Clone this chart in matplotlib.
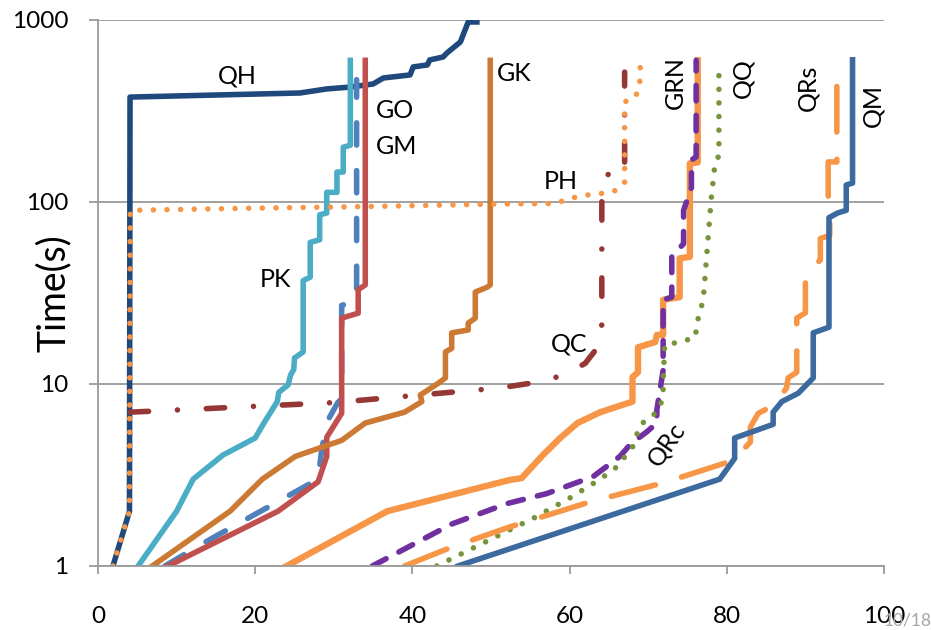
import numpy as np
import matplotlib
matplotlib.use("Agg")
import matplotlib.pyplot as plt

plt.rcParams['font.family'] = ['Lato', 'DejaVu Sans']

# percentage of instances solved (x) vs time in seconds (y)
qh_x = [1.9, 4.0, 4.07, 25.7, 29.1, 32.1, 35.0, 36.3, 39.7, 40.1, 41.9, 42.2, 43.9, 44.4, 46.1, 47.1, 48.2]
qh_y = [1, 2, 377, 397, 418, 428, 445, 480, 499, 552, 566, 603, 626, 659, 757, 975, 975]

pk_x = [5.1, 10, 12.1, 15.9, 20, 21, 22.8, 23, 24.2, 24.5, 24.9, 25, 26.1, 26.1, 27, 27, 28.2, 28.2,
        29.1, 29.1, 30.4, 30.4, 31.2, 31.2, 32.1, 32.1]
pk_y = [1, 2, 3, 4.07, 5.05, 6, 8, 9, 9.9, 11.2, 12, 13.9, 15, 37, 38.6, 60, 62, 85,
        87, 113, 113, 146, 146, 200, 205, 600]

go_x = [8.5, 14.5, 22, 28, 28.5, 29.4, 30.5, 31, 31, 32.9, 32.9]
go_y = [1, 1.42, 2.15, 3.0, 4.5, 6.5, 7.9, 8.3, 27, 29, 470]

gm_x = [8.9, 22.9, 28, 29.1, 29.1, 31, 31, 33.1, 33.1, 34, 34]
gm_y = [1, 2, 2.9, 4, 5.1, 6.9, 23, 24.5, 33, 35, 600]

gk_x = [6.9, 16.8, 20.9, 25.1, 31, 34, 39, 41.2, 41, 43.3, 44.2, 44.2, 45, 45, 47.1, 47.1, 48,
        48, 49.5, 49.9, 49.9]
gk_y = [1, 2, 3, 4, 4.9, 6.1, 7, 8, 8.7, 10.1, 10.8, 15, 15.7, 19.1, 19.8, 21.6, 23,
        32, 34, 35, 600]

qc_x = [4.1, 30, 51, 57, 60, 62, 64, 64.1, 64.1, 64.9, 64.9, 67, 67]
qc_y = [7.0, 7.9, 9.5, 10.4, 11.6, 13, 16.8, 22, 104, 120, 160, 160, 517]

ph_x = [1.9, 4.0, 4.1, 20, 35, 51, 58, 61.3, 64.5, 66, 67, 67, 67, 68.2, 68.9, 69]
ph_y = [1, 2, 90, 92.5, 94.5, 97.5, 98, 108, 112, 116, 127, 210, 355, 370, 420, 580]

grn_x = [24, 36.8, 52.4, 53.9, 56.6, 58.8, 61, 63.9, 68, 68, 68.7, 68.7, 70.9, 71.1, 71.9,
         71.9, 74, 74, 75.3, 75.3, 76.3, 76.3]
grn_y = [1, 2, 2.97, 3.04, 4.07, 5.05, 6.1, 7, 8, 10.9, 11.6, 15.9, 17, 18.6, 18.6,
         29, 30, 49, 50, 163, 165, 600]

qrc_x = [34.9, 45, 52, 57.1, 63, 66.4, 67.8, 69.8, 71.1, 71.1, 71.9, 71.9, 73, 73, 74.5, 74.5,
         75.5, 75.5, 76.1, 76.1]
qrc_y = [1, 1.7, 2.2, 2.5, 3.1, 4, 4.7, 5.45, 6.1, 7.2, 11.9, 29, 30, 50, 59, 90,
         120, 170, 177, 600]

qq_x = [43.1, 52.4, 55.4, 60, 63.9, 66, 68, 69, 70.5, 71.5, 71.9, 71.9, 72.1, 74, 76, 76.2,
        77, 78, 78.5, 79, 79]
qq_y = [1, 1.58, 1.83, 2.36, 3, 3.5, 4.5, 6, 6.6, 7.5, 8.7, 10.2, 16.4, 17, 18, 21.6,
        29, 102, 163, 180, 530]

qrs_x = [39, 44.8, 52.4, 62.6, 71.9, 80.8, 83, 83, 84, 85.9, 87.6, 87.8, 88.9, 88.9, 90, 90,
         91.9, 91.9, 93.1, 93.1, 92.9, 92.9, 94, 94]
qrs_y = [1, 1.26, 1.64, 2.25, 2.86, 3.8, 4.8, 5.8, 6.9, 7.6, 9.5, 10.8, 11.6, 23, 24.6, 40,
         48, 63, 65.6, 87, 109, 166, 166, 470]

qm_x = [45.8, 79.1, 81, 81, 85.9, 85.9, 87, 89.1, 91, 91, 93, 93, 94.1, 95.2, 95.2, 96, 96]
qm_y = [1, 3, 3.9, 5.05, 6, 7, 8, 8.9, 10.8, 19.1, 20.5, 82, 87, 90, 124, 127, 604]

x_ticks = [0, 20, 40, 60, 80, 100]
y_ticks = [1, 10, 100, 1000]
y_tick_labels = ['1', '10', '100', '1000']

fig = plt.figure(figsize=(9.31, 6.3), dpi=100)
ax = fig.add_axes([0.1053, 0.1016, 0.8442, 0.8667])

lw = 4.0
dot = (0, (0.001, 2.45))

# drawing order matters: later ones sit on top
ax.plot(qh_x, qh_y, color='#1F497D', lw=lw)
ax.plot(pk_x, pk_y, color='#4BACC6', lw=lw)
ax.plot(go_x, go_y, color='#4F81BD', lw=lw, ls=(0, (4.0, 4.6)), dash_capstyle='round')
ax.plot(gm_x, gm_y, color='#C0504D', lw=lw)
ax.plot(qc_x, qc_y, color='#953735', lw=lw, ls=(0, (3.3, 5.2, 0.001, 5.2)), dash_capstyle='round')
ax.plot(gk_x, gk_y, color='#CC7A33', lw=lw)
ax.plot(ph_x, ph_y, color='#F79646', lw=lw, ls=dot, dash_capstyle='round')
ax.plot(grn_x, grn_y, color='#F79646', lw=4.6)
ax.plot(qrc_x, qrc_y, color='#7030A0', lw=lw, ls=(0, (2.8, 2.6)), dash_capstyle='round')
ax.plot(qq_x, qq_y, color='#77933C', lw=lw, ls=dot, dash_capstyle='round')
ax.plot(qrs_x, qrs_y, color='#F79646', lw=lw, ls=(0, (8.2, 4.9)), dash_capstyle='round')
ax.plot(qm_x, qm_y, color='#3C6A9E', lw=lw)

# series names written next to the curves
labels = [('QH', 17.7, 492, 0), ('GO', 37.8, 320, 0), ('GM', 38.0, 203, 0),
          ('PK', 22.6, 37.3, 0), ('GK', 52.9, 505, 0), ('PH', 58.9, 130, 0),
          ('QC', 59.9, 16.6, 0), ('GRN', 73.5, 451, 90), ('QQ', 82.1, 480, 90),
          ('QRs', 90.3, 423, 90), ('QM', 98.6, 337, 90), ('QRc', 72.3, 4.68, 55)]
for name, lx, ly, rot in labels:
    ax.text(lx, ly, name, fontsize=18, ha='center', va='center', rotation=rot,
            rotation_mode='anchor')

ax.set_yscale('log')
ax.set_xlim(0, 100)
ax.set_ylim(1, 1000)
ax.set_xticks(x_ticks)
ax.set_xticklabels([str(t) for t in x_ticks])
ax.set_yticks(y_ticks)
ax.set_yticklabels(y_tick_labels)
ax.yaxis.set_minor_locator(matplotlib.ticker.NullLocator())

grid_col = '#9A9A9A'
ax.yaxis.grid(True, color=grid_col, lw=1.3)
ax.set_axisbelow(True)
for s in ['top', 'right']:
    ax.spines[s].set_visible(False)
for s in ['left', 'bottom']:
    ax.spines[s].set_color(grid_col)
    ax.spines[s].set_linewidth(1.3)
ax.tick_params(axis='y', direction='out', length=6.5, width=1.3, color=grid_col,
               labelsize=17.5, pad=15)
ax.tick_params(axis='x', direction='out', length=6, width=1.3, color=grid_col,
               labelsize=17.5, pad=23)
ax.set_ylabel('Time(s)', fontsize=27)
ax.yaxis.set_label_coords(-0.033, 0.5)

fig.text(0.975, 0.0143, '10/18', color='#A6A6A6', fontsize=12.5, ha='center', va='center')

fig.savefig('out.png', dpi=100)
